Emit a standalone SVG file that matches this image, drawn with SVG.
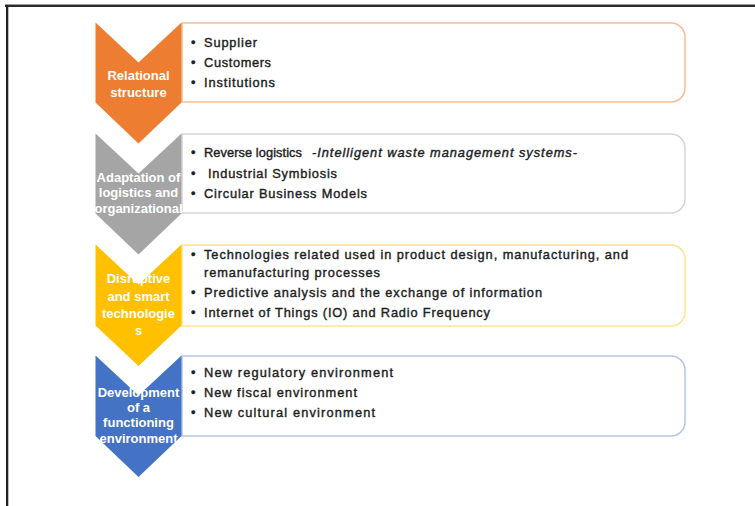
<svg xmlns="http://www.w3.org/2000/svg" width="755" height="506" viewBox="0 0 755 506">
<style>
.chev-t{font-family:"Liberation Sans",Arial,sans-serif;font-size:13px;font-weight:bold;fill:#ffffff;text-anchor:middle}
.box-t{font-family:"Liberation Sans",Arial,sans-serif;font-size:12.8px;fill:#1e1e1e;stroke:#1e1e1e;stroke-width:0.4px}
.it{font-style:italic}
.box{fill:#ffffff;stroke-width:1.5}
</style>
<rect x="0" y="0" width="755" height="506" fill="#ffffff"/>
<g id="frame">
<rect x="5" y="4" width="750" height="1" fill="#9a9a9a"/>
<rect x="5" y="5" width="750" height="2" fill="#2a2a2a"/>
<rect x="6" y="5" width="2" height="501" fill="#222222"/>
<rect x="8" y="7" width="1" height="499" fill="#bdbdbd"/>
</g>
<g id="connectors"></g>
<g id="node-relational">
<path class="box" stroke="#F6BE98" d="M182,23 H671 A14,14 0 0 1 685,37 V88 A14,14 0 0 1 671,102 H182 Z"/>
<path fill="#ED7D31" d="M95.5,22.5 L138.5,62.5 L181.5,22.5 L181.5,102.5 L138.5,143.5 L95.5,102.5 Z"/>
<text class="chev-t" x="138.5" y="80">Relational</text>
<text class="chev-t" x="138.5" y="96.7">structure</text>
<text class="box-t" x="191" y="46.5">•</text>
<text class="box-t" x="204" y="46.5" textLength="53" lengthAdjust="spacing">Supplier</text>
<text class="box-t" x="191" y="66.5">•</text>
<text class="box-t" x="204" y="66.5" textLength="67" lengthAdjust="spacing">Customers</text>
<text class="box-t" x="191" y="86.5">•</text>
<text class="box-t" x="204" y="86.5" textLength="71" lengthAdjust="spacing">Institutions</text>
</g>
<g id="node-adaptation">
<path class="box" stroke="#D6D6D6" d="M182,134 H671 A14,14 0 0 1 685,148 V199 A14,14 0 0 1 671,213 H182 Z"/>
<path fill="#A5A5A5" d="M95.5,133.5 L138.5,173.5 L181.5,133.5 L181.5,213.5 L138.5,254.5 L95.5,213.5 Z"/>
<text class="chev-t" x="138.5" y="181.7">Adaptation of</text>
<text class="chev-t" x="138.5" y="197.3">logistics and</text>
<text class="chev-t" x="138.5" y="212.7">organizational</text>
<text class="box-t" x="191" y="157">•</text>
<text class="box-t" x="204" y="157" textLength="98" lengthAdjust="spacing">Reverse logistics</text>
<text class="box-t it" x="312" y="157" textLength="265" lengthAdjust="spacing">-Intelligent waste management systems-</text>
<text class="box-t" x="191" y="177.5">•</text>
<text class="box-t" x="208" y="177.5" textLength="129" lengthAdjust="spacing">Industrial Symbiosis</text>
<text class="box-t" x="191" y="198">•</text>
<text class="box-t" x="204" y="198" textLength="163" lengthAdjust="spacing">Circular Business Models</text>
</g>
<g id="node-disruptive">
<path class="box" stroke="#FFE48F" d="M182,245 H671 A14,14 0 0 1 685,259 V312 A14,14 0 0 1 671,326 H182 Z"/>
<path fill="#FFC000" d="M95.5,244.5 L138.5,284.5 L181.5,244.5 L181.5,325.5 L138.5,366 L95.5,325.5 Z"/>
<text class="chev-t" x="138.5" y="283.3">Disruptive</text>
<text class="chev-t" x="138.5" y="301.2">and smart</text>
<text class="chev-t" x="138.5" y="317.7">technologie</text>
<text class="chev-t" x="138.5" y="335">s</text>
<text class="box-t" x="191" y="259.3">•</text>
<text class="box-t" x="204" y="259.3" textLength="424" lengthAdjust="spacing">Technologies related used in product design, manufacturing,  and</text>
<text class="box-t" x="204" y="276.7" textLength="176" lengthAdjust="spacing">remanufacturing processes</text>
<text class="box-t" x="191" y="296.7">•</text>
<text class="box-t" x="204" y="296.7" textLength="338" lengthAdjust="spacing">Predictive analysis and the exchange of information</text>
<text class="box-t" x="191" y="317.3">•</text>
<text class="box-t" x="204" y="317.3" textLength="286" lengthAdjust="spacing">Internet of Things (IO) and Radio Frequency</text>
</g>
<g id="node-development">
<path class="box" stroke="#B4C7E7" d="M182,356 H671 A14,14 0 0 1 685,370 V422 A14,14 0 0 1 671,436 H182 Z"/>
<path fill="#4472C4" d="M95.5,355.5 L138.5,395.5 L181.5,355.5 L181.5,436 L138.5,477 L95.5,436 Z"/>
<text class="chev-t" x="138.5" y="396.7">Development</text>
<text class="chev-t" x="138.5" y="411.7">of a</text>
<text class="chev-t" x="138.5" y="427.3">functioning</text>
<text class="chev-t" x="138.5" y="442.7">environment</text>
<text class="box-t" x="191" y="377.3">•</text>
<text class="box-t" x="204" y="377.3" textLength="189" lengthAdjust="spacing">New regulatory environment</text>
<text class="box-t" x="191" y="397.3">•</text>
<text class="box-t" x="204" y="397.3" textLength="153" lengthAdjust="spacing">New fiscal environment</text>
<text class="box-t" x="191" y="417.3">•</text>
<text class="box-t" x="204" y="417.3" textLength="171" lengthAdjust="spacing">New cultural environment</text>
</g>
</svg>
